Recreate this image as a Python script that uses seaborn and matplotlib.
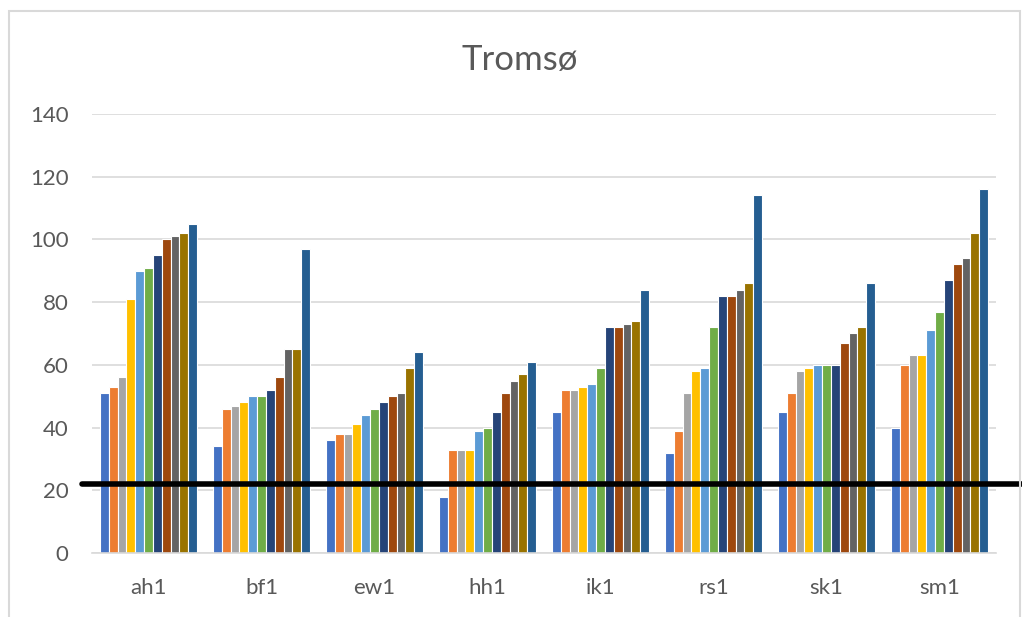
import pandas as pd
import matplotlib.pyplot as plt
import seaborn as sns
from matplotlib.patches import Rectangle

# Data
sites = ["ah1", "bf1", "ew1", "hh1", "ik1", "rs1", "sk1", "sm1"]
series = [f"s{i}" for i in range(1, 12)]

ah1 = [51, 53, 56, 81, 90, 91, 95, 100, 101, 102, 105]
bf1 = [34, 46, 47, 48, 50, 50, 52, 56, 65, 65, 97]
ew1 = [36, 38, 38, 41, 44, 46, 48, 50, 51, 59, 64]
hh1 = [18, 33, 33, 33, 39, 40, 45, 51, 55, 57, 61]
ik1 = [45, 52, 52, 53, 54, 59, 72, 72, 73, 74, 84]
rs1 = [32, 39, 51, 58, 59, 72, 82, 82, 84, 86, 114]
sk1 = [45, 51, 58, 59, 60, 60, 60, 67, 70, 72, 86]
sm1 = [40, 60, 63, 63, 71, 77, 87, 92, 94, 102, 116]

threshold = 22

colors = ["#4472C4", "#ED7D31", "#A5A5A5", "#FFC000", "#5B9BD5", "#70AD47",
          "#264478", "#9E480E", "#636363", "#997300", "#255E91"]

values = [ah1, bf1, ew1, hh1, ik1, rs1, sk1, sm1]
rows = []
for site, vals in zip(sites, values):
    for s, v in zip(series, vals):
        rows.append({"site": site, "series": s, "value": v})
df = pd.DataFrame(rows)

sns.set_style("white")
plt.rcParams['font.family'] = ['Lato', 'DejaVu Sans']

fig = plt.figure(figsize=(10.22, 6.17), dpi=100)
ax = fig.add_axes([0.09, 0.1037, 0.8846, 0.7116])

sns.barplot(data=df, x="site", y="value", hue="series", hue_order=series,
            palette=colors, width=0.86, edgecolor="white", linewidth=0.8,
            saturation=1, legend=False, ax=ax)

ax.set_ylim(0, 140)
ax.set_yticks(range(0, 141, 20))
ax.yaxis.grid(True, color="#D9D9D9", linewidth=1.2)
ax.set_axisbelow(True)
for side in ["top", "right", "left"]:
    ax.spines[side].set_visible(False)
ax.spines["bottom"].set_color("#D9D9D9")
ax.spines["bottom"].set_linewidth(1.2)
ax.tick_params(axis="both", length=0, labelsize=16, labelcolor="#595959")
ax.tick_params(axis="y", pad=17)
ax.tick_params(axis="x", pad=18)
ax.set_xlabel("")
ax.set_ylabel("")

ax.axhline(threshold, xmin=-0.011, xmax=1.03, color="black", linewidth=4,
           clip_on=False, zorder=5)

fig.text(0.509, 0.903, "Tromsø", ha="center", va="center", fontsize=25,
         color="#595959")

# chart frame
fig.add_artist(Rectangle((0.009, -0.01), 0.989, 0.992, transform=fig.transFigure,
                         fill=False, edgecolor="#D9D9D9", linewidth=1.5))

fig.savefig("out.png", dpi=100)
